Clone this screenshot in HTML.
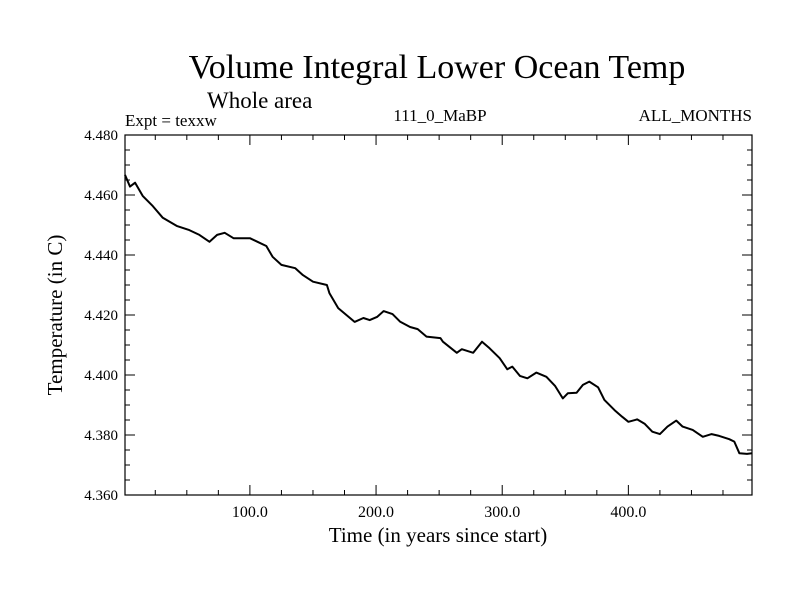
<!DOCTYPE html>
<html><head><meta charset="utf-8"><style>
body{margin:0;background:#fff;}
svg text{font-family:"Liberation Serif",serif;fill:#000;}
</style></head><body>
<svg width="800" height="600" viewBox="0 0 800 600" id="chart">
<text x="437" y="78" font-size="34" text-anchor="middle">Volume Integral Lower Ocean Temp</text>
<text x="207" y="108" font-size="23">Whole area</text>
<text x="125" y="126" font-size="17">Expt = texxw</text>
<text x="440" y="121" font-size="17" text-anchor="middle">111_0_MaBP</text>
<text x="752" y="121" font-size="17" text-anchor="end">ALL_MONTHS</text>
<text x="438" y="542" font-size="21" text-anchor="middle">Time (in years since start)</text>
<text x="0" y="0" font-size="21" text-anchor="middle" transform="translate(62,315) rotate(-90)">Temperature (in C)</text>
<g id="axes"></g>
</svg>
<script>
const years=[1,5,9,15,23,31,42,52,60,68,74,80,87,94,100,106,113,118,125,136,142,150,161,163,170,183,190,195,201,206,213,219,227,233,240,251,253,264,268,277,284,290,298,304,308,314,320,327,335,342,348,352,359,364,369,376,381,389,395,400,407,413,419,425,431,438,443,451,459,466,472,480,484,488,494,498];
const temps=[4.4667,4.4628,4.4641,4.4597,4.4563,4.4524,4.4497,4.4483,4.4467,4.4444,4.4467,4.4474,4.4456,4.4456,4.4456,4.4444,4.4430,4.4394,4.4367,4.4356,4.4333,4.4311,4.4300,4.4273,4.4223,4.4177,4.4190,4.4183,4.4194,4.4213,4.4203,4.4178,4.4160,4.4153,4.4128,4.4123,4.4111,4.4074,4.4086,4.4074,4.4111,4.4089,4.4056,4.4019,4.4028,4.3997,4.3989,4.4008,4.3994,4.3963,4.3922,4.3939,4.3941,4.3967,4.3978,4.3959,4.3917,4.3883,4.3861,4.3844,4.3852,4.3837,4.3811,4.3803,4.3828,4.3848,4.3828,4.3817,4.3794,4.3803,4.3797,4.3786,4.3778,4.3739,4.3737,4.3739];
const xTicks=[100,200,300,400];
const xTickLabels=["100.0","200.0","300.0","400.0"];
const yTicks=[4.36,4.38,4.40,4.42,4.44,4.46,4.48];
const yTickLabels=["4.360","4.380","4.400","4.420","4.440","4.460","4.480"];
const L=125,R=752,T=135,B=495,X0=1,X1=498,Y0=4.36,Y1=4.48;
const sx=v=>L+(v-X0)/(X1-X0)*(R-L);
const sy=v=>B-(v-Y0)/(Y1-Y0)*(B-T);
const NS="http://www.w3.org/2000/svg";
const g=document.getElementById('axes');
function mk(t,a){const e=document.createElementNS(NS,t);for(const k in a)e.setAttribute(k,a[k]);g.appendChild(e);return e;}
let e=mk('rect',{x:L,y:T,width:R-L,height:B-T,fill:'none',stroke:'#000','stroke-width':1.2});


function tick(x1,y1,x2,y2,n){const t=mk('line',{x1,y1,x2,y2,stroke:'#000','stroke-width':1});

}
for(let v=25;v<X1;v+=25){const x=sx(v);const len=(v%100===0)?10:5;
tick(x,B,x,B-len,'x-tick');tick(x,T,x,T+len,'x-tick-top');}
for(let i=0;i<=24;i++){const v=Y0+i*0.005;const y=sy(v);const len=(i%4===0)?10:5;
tick(L,y,L+len,y,'y-tick');tick(R,y,R-len,y,'y-tick-right');}
xTicks.forEach((v,i)=>{const t=mk('text',{x:sx(v),y:B+22,'font-size':16,'text-anchor':'middle'});t.textContent=xTickLabels[i];

});
yTicks.forEach((v,i)=>{const t=mk('text',{x:L-7,y:sy(v)+5,'font-size':15,'text-anchor':'end'});t.textContent=yTickLabels[i];

});
const p=mk('path',{d:years.map((v,i)=>(i?'L':'M')+sx(v).toFixed(1)+','+sy(temps[i]).toFixed(1)).join(''),fill:'none',stroke:'#000','stroke-width':2,'stroke-linejoin':'round'});


</script>
</body></html>
